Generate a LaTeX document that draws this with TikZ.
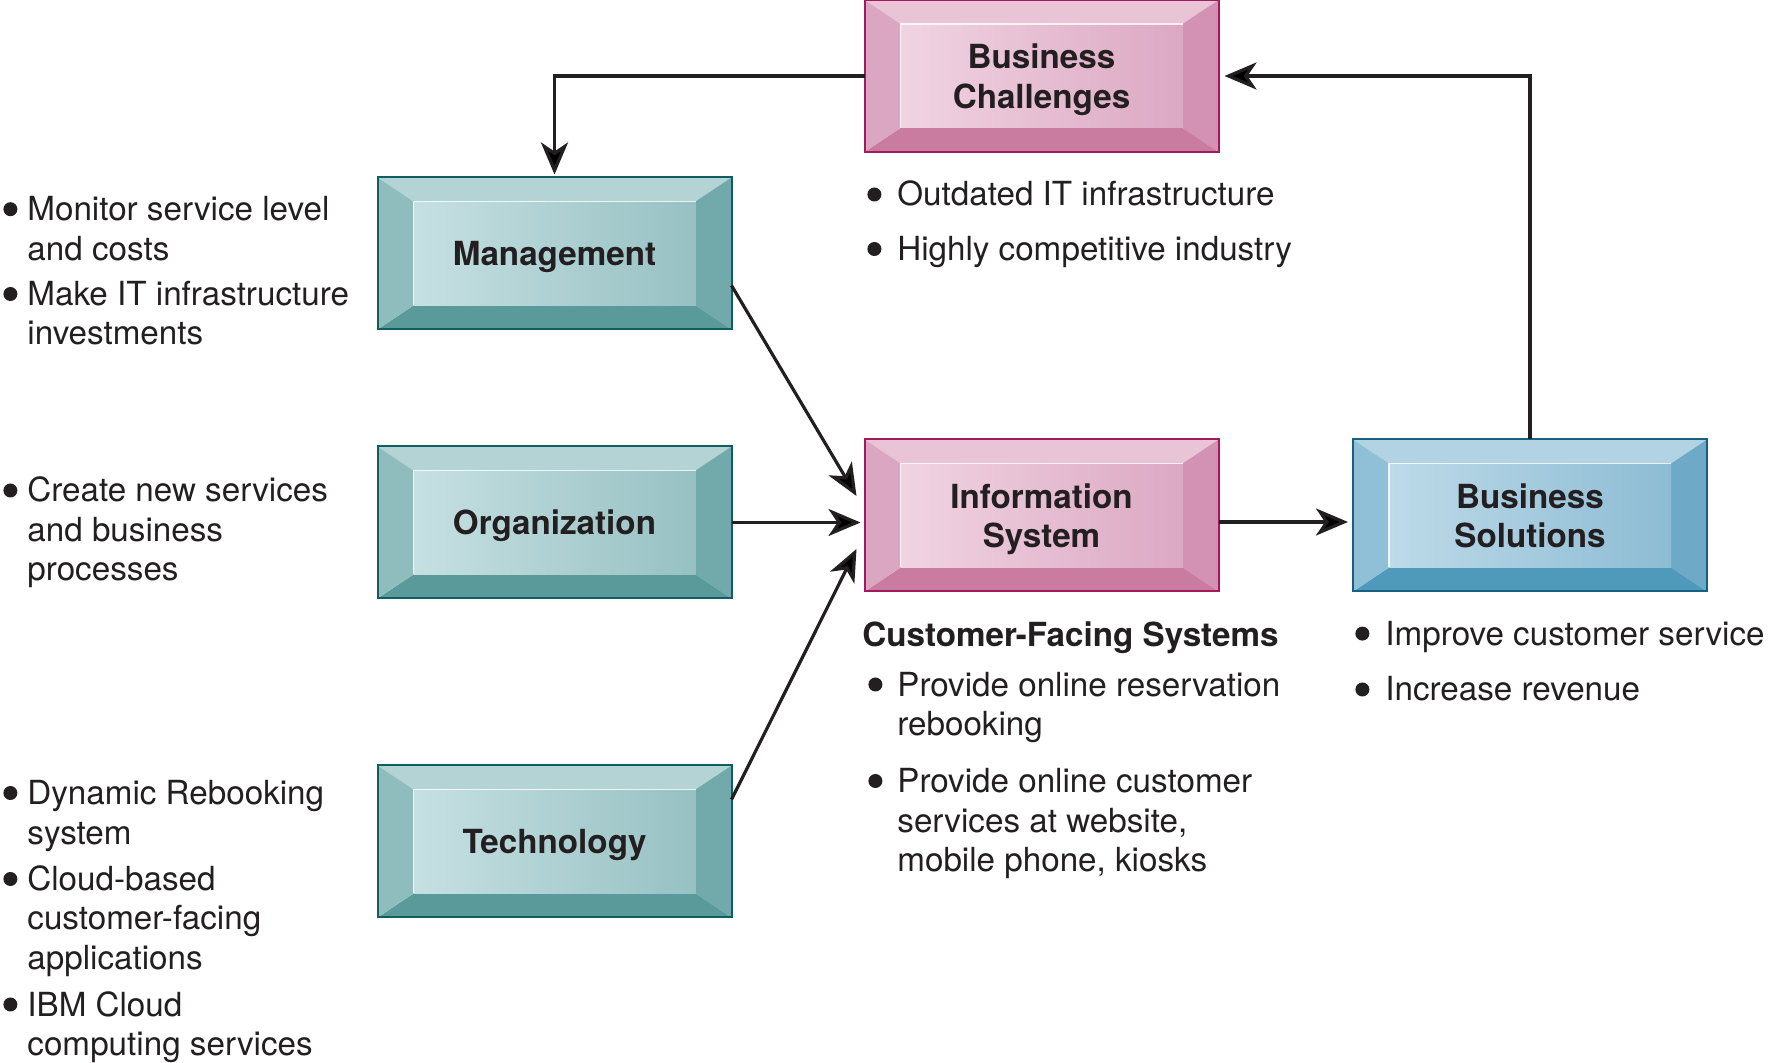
\documentclass[tikz,border=0pt]{standalone}
\usepackage{fontspec}
\setmainfont{TeX Gyre Heros}
\usetikzlibrary{arrows.meta}
\definecolor{ink}{HTML}{231F20}
% teal boxes
\definecolor{seaedge}{HTML}{0F5F60}
\definecolor{seatop}{HTML}{B4D3D5}
\definecolor{sealeft}{HTML}{8FBDBE}
\definecolor{searight}{HTML}{72AAAB}
\definecolor{seabot}{HTML}{5A9A9B}
\definecolor{seainl}{HTML}{C6E0E2}
\definecolor{seainr}{HTML}{97C1C3}
% pink boxes
\definecolor{roseedge}{HTML}{A3195B}
\definecolor{rosetop}{HTML}{E8C4D6}
\definecolor{roseleft}{HTML}{DAA6C1}
\definecolor{roseright}{HTML}{D391B3}
\definecolor{rosebot}{HTML}{C97C9F}
\definecolor{roseinl}{HTML}{F0D4E2}
\definecolor{roseinr}{HTML}{DCA8C3}
% blue box
\definecolor{skyedge}{HTML}{17607E}
\definecolor{skytop}{HTML}{B2D3E3}
\definecolor{skyleft}{HTML}{8FC0D7}
\definecolor{skyright}{HTML}{6EAAC8}
\definecolor{skybot}{HTML}{4F99BA}
\definecolor{skyinl}{HTML}{BDDAE8}
\definecolor{skyinr}{HTML}{8DBCD4}

\newcommand{\notefont}{\fontsize{16.6}{19.75}\selectfont}
\newcommand{\labelfont}{\fontsize{16.6}{19.75}\selectfont\bfseries}
\newcommand{\bulletdot}{\tikz[baseline=-5.75pt]\fill[ink] (3.5pt,0pt) circle (3.5pt);}
\newcommand{\bul}[1][12pt]{\makebox[#1][l]{\bulletdot}}
\newcommand{\bulind}[1][12pt]{\hspace*{#1}}

\tikzset{
  bevelbox/.style={draw=#1edge, line width=1pt, minimum width=177pt,
    minimum height=76pt, inner sep=0pt, outer sep=0pt, font=\labelfont,
    text=ink, align=center, text depth=0pt,
    path picture={
      \coordinate (o1) at (path picture bounding box.north west);
      \coordinate (o3) at (path picture bounding box.south east);
      \coordinate (o2) at (o3 |- o1);
      \coordinate (o4) at (o1 |- o3);
      \coordinate (i1) at ([shift={(18pt,-12pt)}]o1);
      \coordinate (i2) at ([shift={(-18pt,-12pt)}]o2);
      \coordinate (i3) at ([shift={(-18pt,12pt)}]o3);
      \coordinate (i4) at ([shift={(18pt,12pt)}]o4);
      \fill[#1top] (o1) -- (o2) -- (i2) -- (i1) -- cycle;
      \fill[#1right] (o2) -- (o3) -- (i3) -- (i2) -- cycle;
      \fill[#1bot] (o3) -- (o4) -- (i4) -- (i3) -- cycle;
      \fill[#1left] (o4) -- (o1) -- (i1) -- (i4) -- cycle;
      \shade[left color=#1inl, right color=#1inr] (i1) rectangle (i3);
      \draw[white, opacity=.8, line width=.6pt] (i4) -- (i1) -- (i2);
    }},
  note/.style={font=\notefont, text=ink, align=left, inner sep=0pt,
    anchor=base west},
  arr/.style={-{Stealth[length=16pt,width=13.5pt,inset=4.5pt]},
    line width=1.6pt, draw=ink}
}

\begin{document}
\begin{tikzpicture}[x=0.5pt, y=-0.5pt]
  \fill[white] (0,0) rectangle (1769,1063);
  \useasboundingbox (0,0) rectangle (1769,1063);

  % boxes
  \node[bevelbox=rose] (chal) at (1041.5,76) {Business\\Challenges};
  \node[bevelbox=sea] (mgmt) at (554.5,253.5) {Management};
  \node[bevelbox=sea] (org) at (554.5,522.5) {Organization};
  \node[bevelbox=sea] (tech) at (554.5,841.5) {Technology};
  \node[bevelbox=rose] (info) at (1041.5,515.5) {Information\\System};
  \node[bevelbox=sky] (sol) at (1530,515.5) {Business\\Solutions};

  % bullet notes (placed at the baseline of their last line)
  \node[note] (mgmtnote) at (3,345) {\bul Monitor service level\\\bulind and costs\\[2.9pt]\bul Make IT infrastructure\\\bulind investments};
  \node[note] (orgnote) at (3,581) {\bul Create new services\\\bulind and business\\\bulind processes};
  \node[note] (technote) at (3,1055.5) {\bul Dynamic Rebooking\\\bulind system\\[3.5pt]\bul Cloud-based\\\bulind customer-facing\\\bulind applications\\[3.5pt]\bul IBM Cloud\\\bulind computing services};
  \node[note] (chalnote) at (867,260.5) {\bul[15pt]Outdated IT infrastructure\\[7.5pt]\bul[15pt]Highly competitive industry};
  \node[note] (infohead) at (862,646.5) {\textbf{Customer-Facing Systems}};
  \node[note] (infonote) at (868,871.5) {\bul[14.5pt]Provide online reservation\\\bulind[14.5pt]rebooking\\[8.75pt]\bul[14.5pt]Provide online customer\\\bulind[14.5pt]services at website,\\\bulind[14.5pt]mobile phone, kiosks};
  \node[note] (solnote) at (1355,701) {\bul[15pt]Improve customer service\\[8.2pt]\bul[15pt]Increase revenue};

  % connectors
  \draw[arr, shorten >=1.5pt] (chal.west) -| (mgmt.north);
  \draw[arr, shorten >=3pt] (sol.north) |- (chal.east);
  \draw[arr] ([yshift=-16pt]mgmt.east) -- ([shift={(-4pt,9.75pt)}]info.west);
  \draw[arr, shorten >=2pt] (org.east) -- (org.east -| info.west);
  \draw[arr] ([yshift=21pt]tech.east) -- ([shift={(-4pt,-16.75pt)}]info.west);
  \draw[arr, shorten >=2.5pt] ([yshift=-3.25pt]info.east) -- ([yshift=-3.25pt]sol.west);
\end{tikzpicture}
\end{document}
